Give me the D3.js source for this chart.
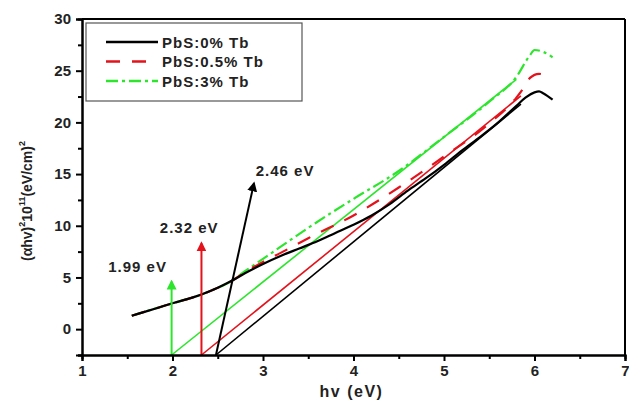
<!DOCTYPE html>
<html>
<head>
<meta charset="utf-8">
<script src="https://cdn.jsdelivr.net/npm/d3@7"></script>
<style>
  body { margin: 0; background: #fff; }
  text { font-family: Arial, "Liberation Sans", sans-serif; font-weight: bold; }
</style>
</head>
<body>
<div id="chart"></div>
<script>
// measured curves (hv in eV, (ahv)^2 in 1e11 (eV/cm)^2)
let hv0 = [1.55, 1.7, 1.85, 2.0, 2.2, 2.32, 2.5, 2.66, 2.8, 3.0, 3.2, 3.4, 3.6, 3.8, 4.0, 4.2, 4.4, 4.6, 4.8, 5.0, 5.2, 5.4, 5.6, 5.8, 5.9, 6.0, 6.05, 6.1, 6.2];
let tb0 = [1.3, 1.7, 2.1, 2.5, 3.0, 3.35, 4.0, 4.7, 5.4, 6.3, 7.1, 7.8, 8.5, 9.3, 10.1, 11.0, 12.1, 13.4, 14.6, 15.9, 17.3, 18.6, 20.0, 21.6, 22.4, 22.9, 23.0, 22.8, 22.2];

let hv05 = [1.55, 1.7, 1.85, 2.0, 2.2, 2.32, 2.5, 2.66, 2.8, 3.0, 3.2, 3.5, 4.0, 4.5, 5.0, 5.5, 5.8, 5.9, 5.95, 6.05, 6.1, 6.15];
let tb05 = [1.3, 1.7, 2.1, 2.5, 3.0, 3.35, 4.0, 4.7, 5.5, 6.5, 7.4, 8.8, 11.0, 13.7, 16.7, 19.9, 22.4, 23.6, 24.3, 24.7, 24.6, 24.1];

let hv3 = [1.55, 1.7, 1.85, 2.0, 2.2, 2.32, 2.5, 2.66, 2.8, 3.0, 3.2, 3.5, 4.0, 4.5, 5.0, 5.5, 5.8, 5.95, 6.0, 6.1, 6.2];
let tb3 = [1.3, 1.7, 2.1, 2.5, 3.0, 3.35, 4.0, 4.7, 5.6, 6.8, 8.0, 9.8, 12.6, 15.3, 18.6, 22.0, 24.4, 26.5, 27.0, 26.8, 26.3];

// band gap values and the straight fits
let gapLabels = ["2.46 eV", "2.32 eV", "1.99 eV"];
let fitStart = [2.48, 2.32, 1.99];
let fitEnd = [5.85, 5.85, 5.8];
let fitSlope = [7.2, 7.1, 7.0];
let arrowTip = [[2.9, 14.1], [2.32, 8.3], [1.99, 4.6]];
let labelPos = [[2.92, 14.8], [1.86, 9.3], [1.29, 5.5]];

let legendNames = ["PbS:0% Tb", "PbS:0.5% Tb", "PbS:3% Tb"];
let colors = ["#000000", "#e3121b", "#2de52d"];
let dashes = [null, "14,12", "12,4,3,4"];

let xTicks = [1, 2, 3, 4, 5, 6, 7];
let yTicks = [0, 5, 10, 15, 20, 25, 30];

let margin = {top: 19, right: 4, bottom: 49, left: 82};
let W = 629, H = 404;
let width = W - margin.left - margin.right,
    height = H - margin.top - margin.bottom;

let svg = d3.select("#chart").append("svg")
    .attr("width", W)
    .attr("height", H);

let g = svg.append("g")
    .attr("transform", `translate(${margin.left},${margin.top})`);

let x = d3.scaleLinear().domain([1, 7]).range([0, width]);
let y = d3.scaleLinear().domain([-2.5, 30]).range([height, 0]);

let series = [
    {hv: hv0, v: tb0},
    {hv: hv05, v: tb05},
    {hv: hv3, v: tb3}
];

let line = d3.line()
    .x(d => x(d[0]))
    .y(d => y(d[1]))
    .curve(d3.curveMonotoneX);

// arrow marker
let defs = svg.append("defs");
colors.forEach((c, i) => {
    defs.append("marker")
        .attr("id", "arr" + i)
        .attr("viewBox", "0 0 10 10")
        .attr("refX", 8).attr("refY", 5)
        .attr("markerWidth", 5).attr("markerHeight", 5)
        .attr("orient", "auto")
        .append("path")
        .attr("d", "M0,0 L10,5 L0,10 z")
        .attr("fill", c);
});

// straight fit lines
fitStart.forEach((s, i) => {
    g.append("line")
        .attr("x1", x(s)).attr("y1", y(-2.5))
        .attr("x2", x(fitEnd[i])).attr("y2", y(-2.5 + fitSlope[i] * (fitEnd[i] - s)))
        .attr("stroke", colors[i])
        .attr("stroke-width", 1.6);
});

// curves, green first so black stays on top
[2, 1, 0].forEach(i => {
    let pts = series[i].hv.map((h, j) => [h, series[i].v[j]]);
    g.append("path")
        .attr("d", line(pts))
        .attr("fill", "none")
        .attr("stroke", colors[i])
        .attr("stroke-width", 2.2)
        .attr("stroke-dasharray", dashes[i]);
});

// arrows and labels
fitStart.forEach((s, i) => {
    g.append("line")
        .attr("x1", x(s)).attr("y1", y(-2.5))
        .attr("x2", x(arrowTip[i][0])).attr("y2", y(arrowTip[i][1]))
        .attr("stroke", colors[i])
        .attr("stroke-width", 2)
        .attr("marker-end", `url(#arr${i})`);

    g.append("text")
        .attr("x", x(labelPos[i][0]))
        .attr("y", y(labelPos[i][1]))
        .attr("font-size", "15px")
        .attr("letter-spacing", "1px")
        .attr("fill", "#222")
        .text(gapLabels[i]);
});

// axes
g.append("g")
    .attr("transform", `translate(0,${height})`)
    .call(d3.axisBottom(x).tickValues(xTicks).tickFormat(d3.format("d")).tickSize(6).tickPadding(4));
g.append("g")
    .attr("transform", `translate(0,${height})`)
    .call(d3.axisBottom(x).tickValues(d3.range(1.5, 7, 1)).tickFormat("").tickSize(4));

g.append("g")
    .call(d3.axisLeft(y).tickValues(yTicks).tickFormat(d3.format("d")).tickSize(6).tickPadding(5));
g.append("g")
    .call(d3.axisLeft(y).tickValues(d3.range(-2.5, 30, 5)).tickFormat("").tickSize(4));

g.selectAll(".domain").attr("stroke", "#000").attr("stroke-width", 2);
g.selectAll(".tick line").attr("stroke", "#000").attr("stroke-width", 2);
g.selectAll(".tick text").attr("font-size", "15px").attr("fill", "#222")
    .style("font-family", "Arial, 'Liberation Sans', sans-serif").style("font-weight", "bold");

// top and right frame
g.append("line").attr("x1", 0).attr("x2", width).attr("y1", 0).attr("y2", 0)
    .attr("stroke", "#000").attr("stroke-width", 2);
g.append("line").attr("x1", width).attr("x2", width).attr("y1", 0).attr("y2", height)
    .attr("stroke", "#000").attr("stroke-width", 2);

// axis titles
g.append("text")
    .attr("x", width / 2 - 2)
    .attr("y", height + 42)
    .attr("text-anchor", "middle")
    .attr("font-size", "16px")
    .attr("letter-spacing", "1.5px")
    .attr("fill", "#222")
    .text("hv (eV)");

let yt = svg.append("text")
    .attr("transform", "translate(32,201) rotate(-90)")
    .attr("text-anchor", "middle")
    .attr("font-size", "14px")
    .attr("fill", "#222");
yt.append("tspan").text("(αhv)");
yt.append("tspan").attr("dy", -7).attr("font-size", "9px").text("2");
yt.append("tspan").attr("dy", 7).text("10");
yt.append("tspan").attr("dy", -7).attr("font-size", "9px").text("11");
yt.append("tspan").attr("dy", 7).text("(eV/cm)");
yt.append("tspan").attr("dy", -7).attr("font-size", "9px").text("2");

// legend
let legend = svg.append("g").attr("transform", "translate(86,23)");
legend.append("rect")
    .attr("width", 216).attr("height", 78)
    .attr("fill", "#fff")
    .attr("stroke", "#555").attr("stroke-width", 1.2);

legendNames.forEach((name, i) => {
    let row = legend.append("g").attr("transform", `translate(0,${19 + i * 19.5})`);
    row.append("line")
        .attr("x1", 20).attr("x2", 72)
        .attr("stroke", colors[i])
        .attr("stroke-width", 2.5)
        .attr("stroke-dasharray", dashes[i]);
    row.append("text")
        .attr("x", 76).attr("y", 5.5)
        .attr("font-size", "15px")
        .attr("letter-spacing", "1px")
        .attr("fill", "#222")
        .text(name);
});
</script>
</body>
</html>
